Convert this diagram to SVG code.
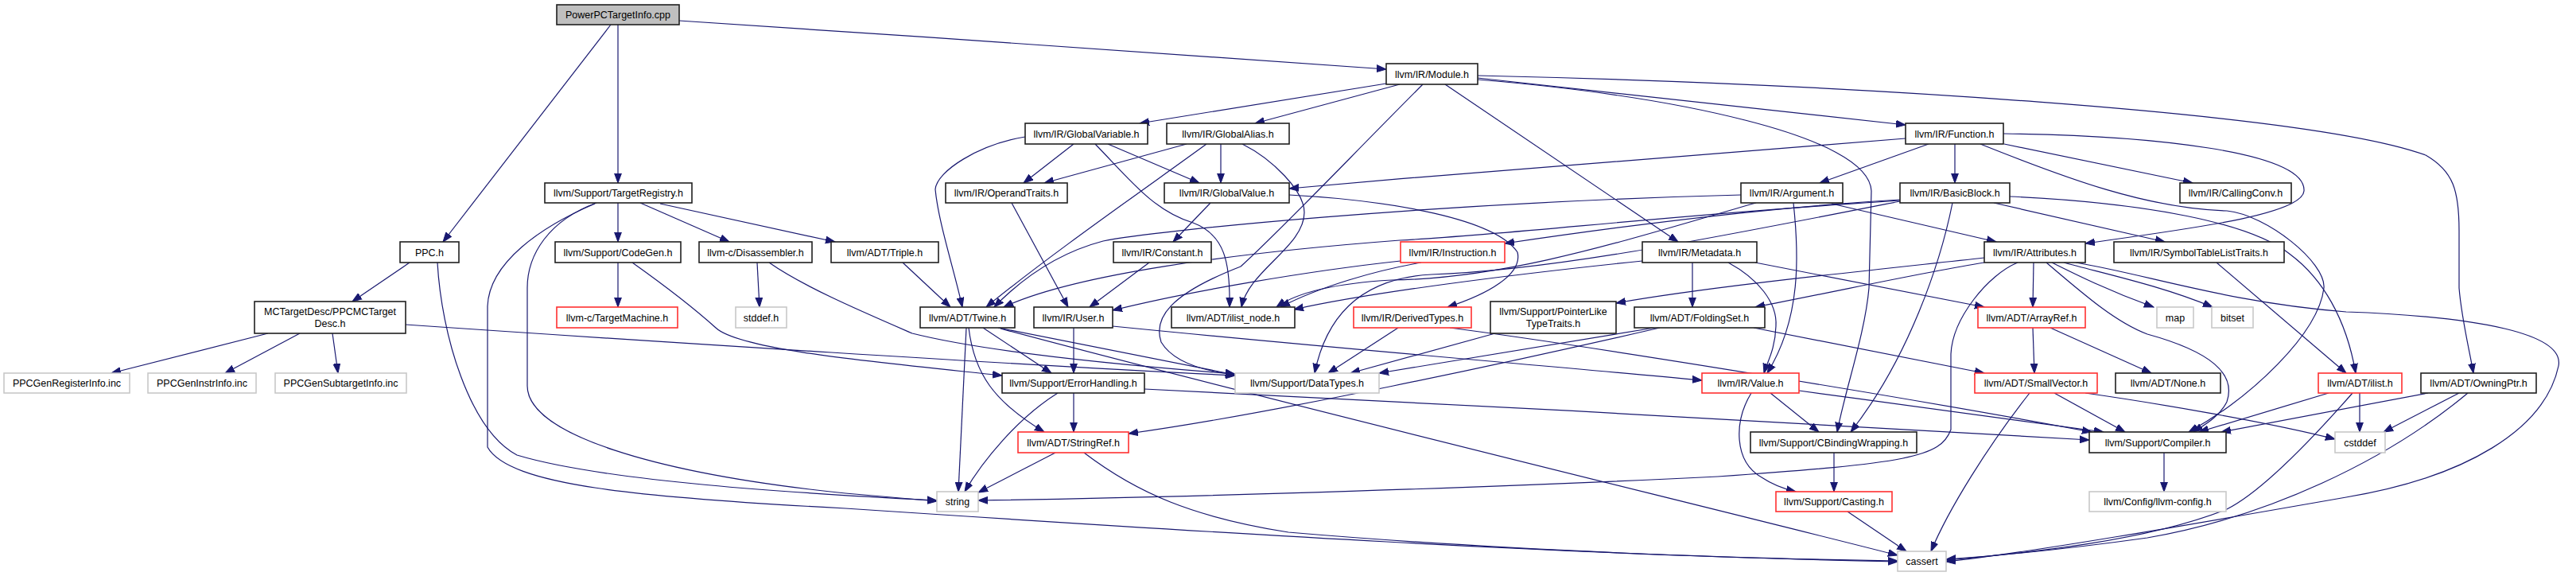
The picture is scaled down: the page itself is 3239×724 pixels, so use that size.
<svg xmlns="http://www.w3.org/2000/svg" width="3239" height="724" viewBox="0 0 3239 724">
<defs>
<marker id="ah" markerUnits="userSpaceOnUse" markerWidth="13" markerHeight="10" refX="12" refY="5" orient="auto">
<path d="M0,0.6 L12,5 L0,9.4 Z" fill="#191970" stroke="#191970" stroke-width="1"/>
</marker>
<style>
.e path{fill:none;stroke:#191970;stroke-width:1.2;marker-end:url(#ah)}
rect{stroke-width:1.6}
.n rect{fill:#fff;stroke:#202020}
.g rect{fill:#fff;stroke:#c8c8c8}
.r rect{fill:#fff;stroke:#ff3030}
.root rect{fill:#bfbfbf;stroke:#202020}
text{font-family:"Liberation Sans",Arial,Helvetica,sans-serif;font-size:12.5px;fill:#000;text-anchor:middle}
</style>
</defs>
<rect x="0" y="0" width="3239" height="724" fill="#fff" style="stroke:none"/>
<g id="edges" class="e">
<path d="M768,31 L557,304"/>
<path d="M777,31 L777,230"/>
<path d="M854,26 C1150,45 1500,70 1743,87"/>
<path d="M1743,105 L1433,155"/>
<path d="M1760,106 L1578,155"/>
<path d="M1789,106 C1700,195 1610,290 1560,335 C1470,370 1450,400 1460,430 C1475,455 1510,466 1553,471"/>
<path d="M1858,98 L2396,157"/>
<path d="M1858,100 C2100,120 2350,170 2353,240 L2350,362 C2345,420 2320,490 2310,543"/>
<path d="M1817,106 L2110,304"/>
<path d="M1858,95 C2300,105 2900,140 3050,195 C3085,215 3092,240 3092,290 L3092,362 C3095,400 3105,440 3110,469"/>
<path d="M777,255 L777,304"/>
<path d="M805,255 L917,304"/>
<path d="M830,256 L1050,304"/>
<path d="M750,255 C690,277 663,320 663,362 L663,485 C663,545 820,595 1063,620 L1178,630"/>
<path d="M748,256 C680,285 615,330 613,385 L613,562 C640,610 800,625 1063,639 C1500,668 2000,700 2386,705"/>
<path d="M515,330 L443,379"/>
<path d="M550,330 C555,420 590,540 650,572 C760,605 1000,620 1178,629"/>
<path d="M337,419 L140,469"/>
<path d="M377,419 L283,469"/>
<path d="M418,419 L425,469"/>
<path d="M510,408 C800,428 1300,460 1553,472"/>
<path d="M777,330 L777,386"/>
<path d="M795,330 C840,362 870,385 900,412 C930,440 1100,455 1260,472"/>
<path d="M952,330 L955,386"/>
<path d="M967,330 C1010,360 1080,390 1147,419 C1250,445 1450,462 1553,470"/>
<path d="M1135,330 L1195,386"/>
<path d="M1289,172 C1230,182 1178,215 1176,238 C1180,280 1200,340 1210,386"/>
<path d="M1350,181 L1287,230"/>
<path d="M1393,181 L1508,230"/>
<path d="M1377,181 C1420,225 1450,265 1500,280 C1540,295 1547,330 1546,386"/>
<path d="M1492,181 L1313,230"/>
<path d="M1517,181 C1450,230 1320,320 1240,386"/>
<path d="M1535,181 L1535,230"/>
<path d="M1562,181 C1600,200 1640,240 1640,267 C1640,310 1570,340 1561,386"/>
<path d="M2396,174 C2200,188 1900,212 1621,237"/>
<path d="M2425,181 L2288,230"/>
<path d="M2458,181 L2458,230"/>
<path d="M2520,181 L2757,230"/>
<path d="M2519,168 C2700,170 2900,190 2897,240 C2895,270 2750,288 2622,306"/>
<path d="M2490,181 C2600,225 2700,262 2800,265 C2850,270 2925,330 2922,362 C2915,420 2830,500 2752,543"/>
<path d="M1522,255 L1475,304"/>
<path d="M1621,245 C1750,252 1880,275 1908,317 C1915,345 1870,370 1820,386"/>
<path d="M1272,255 L1343,386"/>
<path d="M1445,330 L1370,386"/>
<path d="M2189,245 C1800,255 1450,290 1387,303 C1330,318 1285,350 1250,386"/>
<path d="M2208,255 C2050,300 1900,350 1750,352 C1680,356 1630,368 1605,386"/>
<path d="M2303,256 L2510,304"/>
<path d="M2255,255 C2262,320 2265,400 2222,469"/>
<path d="M2389,252 C2100,270 1900,295 1760,302 C1550,318 1350,345 1262,386"/>
<path d="M2389,251 C2200,262 2000,290 1892,306"/>
<path d="M2389,253 C2150,300 1950,340 1800,345 C1700,350 1665,410 1653,469"/>
<path d="M2455,255 C2440,330 2400,450 2327,543"/>
<path d="M2507,255 L2722,304"/>
<path d="M2527,247 C2700,255 2830,280 2880,320 C2920,350 2950,400 2962,469"/>
<path d="M1787,330 C1730,340 1660,360 1610,386"/>
<path d="M1761,328 C1650,340 1500,365 1399,390"/>
<path d="M2065,328 C1900,345 1720,368 1627,389"/>
<path d="M2128,330 L2128,386"/>
<path d="M2173,330 C2210,350 2235,380 2233,410 C2232,440 2222,455 2218,469"/>
<path d="M2207,330 L2495,386"/>
<path d="M2495,324 C2350,340 2150,360 2032,381"/>
<path d="M2495,330 C2420,342 2330,362 2207,386"/>
<path d="M2537,330 C2500,345 2455,400 2453,445 L2453,540 C2440,575 2400,582 2160,599 C1900,612 1500,625 1230,629"/>
<path d="M2557,330 L2556,386"/>
<path d="M2580,330 C2610,345 2650,365 2708,386"/>
<path d="M2595,330 C2650,345 2720,360 2782,386"/>
<path d="M2610,330 C2700,345 2800,380 2950,392 C3120,398 3225,420 3217,460 C3200,540 3100,600 2950,625 C2750,660 2550,695 2447,706"/>
<path d="M2573,330 C2620,370 2660,405 2700,420 C2780,442 2812,470 2800,505 C2790,525 2770,535 2758,543"/>
<path d="M2787,330 L2950,469"/>
<path d="M1215,412 L1205,618"/>
<path d="M1218,412 C1225,470 1250,505 1313,543"/>
<path d="M1236,412 L1322,469"/>
<path d="M1255,412 L1553,471"/>
<path d="M1258,413 C1600,505 2200,650 2386,698"/>
<path d="M1350,412 L1350,469"/>
<path d="M1399,410 C1700,440 1950,460 2140,478"/>
<path d="M1758,412 L1670,469"/>
<path d="M1823,412 C2000,435 2400,500 2630,543"/>
<path d="M1880,419 L1698,469"/>
<path d="M2205,412 L2495,469"/>
<path d="M2087,412 C1900,455 1600,520 1419,545"/>
<path d="M2080,412 L1734,469"/>
<path d="M2556,412 L2558,469"/>
<path d="M2578,412 L2705,469"/>
<path d="M1330,494 C1280,525 1235,580 1213,618"/>
<path d="M1350,494 L1350,543"/>
<path d="M1439,489 C1800,505 2300,535 2627,553"/>
<path d="M2226,494 L2287,543"/>
<path d="M2202,494 C2180,530 2180,580 2215,600 C2230,610 2245,615 2258,618"/>
<path d="M2262,491 C2400,510 2550,530 2645,543"/>
<path d="M2552,494 C2500,560 2450,640 2428,693"/>
<path d="M2583,494 L2672,543"/>
<path d="M2622,494 C2700,505 2850,530 2936,552"/>
<path d="M2928,494 L2765,543"/>
<path d="M2967,494 L2967,543"/>
<path d="M2958,494 C2900,560 2840,620 2800,640 C2700,680 2550,695 2447,704"/>
<path d="M3053,494 L2793,543"/>
<path d="M3092,494 L2997,543"/>
<path d="M3103,494 C3000,580 2850,650 2700,676 C2600,690 2520,698 2447,703"/>
<path d="M1327,569 L1230,619"/>
<path d="M1363,569 C1430,620 1500,650 1620,669 C1900,693 2200,702 2386,706"/>
<path d="M2306,569 L2306,618"/>
<path d="M2323,643 L2397,693"/>
<path d="M2721,569 L2721,618"/>
</g>
<g id="n_root" class="root"><rect x="700" y="6" width="154" height="25"/><text x="777" y="23">PowerPCTargetInfo.cpp</text></g>
<g id="n_module" class="n"><rect x="1743" y="80" width="115" height="26"/><text x="1800.5" y="97.5">llvm/IR/Module.h</text></g>
<g id="n_gvar" class="n"><rect x="1289" y="155" width="154" height="26"/><text x="1366" y="172.5">llvm/IR/GlobalVariable.h</text></g>
<g id="n_galias" class="n"><rect x="1467" y="155" width="154" height="26"/><text x="1544" y="172.5">llvm/IR/GlobalAlias.h</text></g>
<g id="n_function" class="n"><rect x="2396" y="155" width="123" height="26"/><text x="2457.5" y="172.5">llvm/IR/Function.h</text></g>
<g id="n_treg" class="n"><rect x="685" y="230" width="185" height="25"/><text x="777.5" y="247">llvm/Support/TargetRegistry.h</text></g>
<g id="n_optraits" class="n"><rect x="1189" y="230" width="153" height="25"/><text x="1265.5" y="247">llvm/IR/OperandTraits.h</text></g>
<g id="n_gvalue" class="n"><rect x="1464" y="230" width="157" height="25"/><text x="1542.5" y="247">llvm/IR/GlobalValue.h</text></g>
<g id="n_argument" class="n"><rect x="2189" y="230" width="128" height="25"/><text x="2253" y="247">llvm/IR/Argument.h</text></g>
<g id="n_bblock" class="n"><rect x="2389" y="230" width="138" height="25"/><text x="2458" y="247">llvm/IR/BasicBlock.h</text></g>
<g id="n_callconv" class="n"><rect x="2741" y="230" width="140" height="25"/><text x="2811" y="247">llvm/IR/CallingConv.h</text></g>
<g id="n_ppc" class="n"><rect x="503" y="304" width="74" height="26"/><text x="540" y="321.5">PPC.h</text></g>
<g id="n_codegen" class="n"><rect x="698" y="304" width="158" height="26"/><text x="777" y="321.5">llvm/Support/CodeGen.h</text></g>
<g id="n_disasm" class="n"><rect x="879" y="304" width="142" height="26"/><text x="950" y="321.5">llvm-c/Disassembler.h</text></g>
<g id="n_triple" class="n"><rect x="1045" y="304" width="135" height="26"/><text x="1112.5" y="321.5">llvm/ADT/Triple.h</text></g>
<g id="n_constant" class="n"><rect x="1400" y="304" width="123" height="26"/><text x="1461.5" y="321.5">llvm/IR/Constant.h</text></g>
<g id="n_instruction" class="r"><rect x="1761" y="304" width="131" height="26"/><text x="1826.5" y="321.5">llvm/IR/Instruction.h</text></g>
<g id="n_metadata" class="n"><rect x="2065" y="304" width="144" height="26"/><text x="2137" y="321.5">llvm/IR/Metadata.h</text></g>
<g id="n_attributes" class="n"><rect x="2495" y="304" width="127" height="26"/><text x="2558.5" y="321.5">llvm/IR/Attributes.h</text></g>
<g id="n_symtab" class="n"><rect x="2658" y="304" width="214" height="26"/><text x="2765" y="321.5">llvm/IR/SymbolTableListTraits.h</text></g>
<g id="n_mctd" class="n"><rect x="320" y="379" width="190" height="40"/><text x="415" y="395.5">MCTargetDesc/PPCMCTarget</text><text x="415" y="410.5">Desc.h</text></g>
<g id="n_tmachine" class="r"><rect x="700" y="386" width="152" height="26"/><text x="776" y="403.5">llvm-c/TargetMachine.h</text></g>
<g id="n_stddef" class="g"><rect x="925" y="386" width="64" height="26"/><text x="957" y="403.5">stddef.h</text></g>
<g id="n_twine" class="n"><rect x="1157" y="386" width="119" height="26"/><text x="1216.5" y="403.5">llvm/ADT/Twine.h</text></g>
<g id="n_user" class="n"><rect x="1300" y="386" width="99" height="26"/><text x="1349.5" y="403.5">llvm/IR/User.h</text></g>
<g id="n_ilistnode" class="n"><rect x="1473" y="386" width="155" height="26"/><text x="1550.5" y="403.5">llvm/ADT/ilist_node.h</text></g>
<g id="n_derived" class="r"><rect x="1702" y="386" width="148" height="26"/><text x="1776" y="403.5">llvm/IR/DerivedTypes.h</text></g>
<g id="n_plt" class="n"><rect x="1874" y="379" width="158" height="40"/><text x="1953" y="395.5">llvm/Support/PointerLike</text><text x="1953" y="410.5">TypeTraits.h</text></g>
<g id="n_folding" class="n"><rect x="2055" y="386" width="164" height="26"/><text x="2137" y="403.5">llvm/ADT/FoldingSet.h</text></g>
<g id="n_arrayref" class="r"><rect x="2487" y="386" width="135" height="26"/><text x="2554.5" y="403.5">llvm/ADT/ArrayRef.h</text></g>
<g id="n_map" class="g"><rect x="2712" y="386" width="46" height="26"/><text x="2735" y="403.5">map</text></g>
<g id="n_bitset" class="g"><rect x="2781" y="386" width="52" height="26"/><text x="2807" y="403.5">bitset</text></g>
<g id="n_reginfo" class="g"><rect x="5" y="469" width="158" height="25"/><text x="84" y="486">PPCGenRegisterInfo.inc</text></g>
<g id="n_instrinfo" class="g"><rect x="186" y="469" width="136" height="25"/><text x="254" y="486">PPCGenInstrInfo.inc</text></g>
<g id="n_subtgt" class="g"><rect x="346" y="469" width="165" height="25"/><text x="428.5" y="486">PPCGenSubtargetInfo.inc</text></g>
<g id="n_errh" class="n"><rect x="1260" y="469" width="179" height="25"/><text x="1349.5" y="486">llvm/Support/ErrorHandling.h</text></g>
<g id="n_datatypes" class="g"><rect x="1553" y="469" width="181" height="25"/><text x="1643.5" y="486">llvm/Support/DataTypes.h</text></g>
<g id="n_value" class="r"><rect x="2140" y="469" width="122" height="25"/><text x="2201" y="486">llvm/IR/Value.h</text></g>
<g id="n_smallvec" class="r"><rect x="2483" y="469" width="154" height="25"/><text x="2560" y="486">llvm/ADT/SmallVector.h</text></g>
<g id="n_none" class="n"><rect x="2660" y="469" width="132" height="25"/><text x="2726" y="486">llvm/ADT/None.h</text></g>
<g id="n_ilist" class="r"><rect x="2915" y="469" width="105" height="25"/><text x="2967.5" y="486">llvm/ADT/ilist.h</text></g>
<g id="n_owning" class="n"><rect x="3044" y="469" width="145" height="25"/><text x="3116.5" y="486">llvm/ADT/OwningPtr.h</text></g>
<g id="n_stringref" class="r"><rect x="1280" y="543" width="139" height="26"/><text x="1349.5" y="560.5">llvm/ADT/StringRef.h</text></g>
<g id="n_cbw" class="n"><rect x="2201" y="543" width="209" height="26"/><text x="2305.5" y="560.5">llvm/Support/CBindingWrapping.h</text></g>
<g id="n_compiler" class="n"><rect x="2627" y="543" width="172" height="26"/><text x="2713" y="560.5">llvm/Support/Compiler.h</text></g>
<g id="n_cstddef" class="g"><rect x="2936" y="543" width="63" height="26"/><text x="2967.5" y="560.5">cstddef</text></g>
<g id="n_string" class="g"><rect x="1178" y="618" width="52" height="25"/><text x="1204" y="635">string</text></g>
<g id="n_casting" class="r"><rect x="2233" y="618" width="146" height="25"/><text x="2306" y="635">llvm/Support/Casting.h</text></g>
<g id="n_config" class="g"><rect x="2627" y="618" width="172" height="25"/><text x="2713" y="635">llvm/Config/llvm-config.h</text></g>
<g id="n_cassert" class="g"><rect x="2386" y="693" width="61" height="25"/><text x="2416.5" y="710">cassert</text></g>
</svg>
